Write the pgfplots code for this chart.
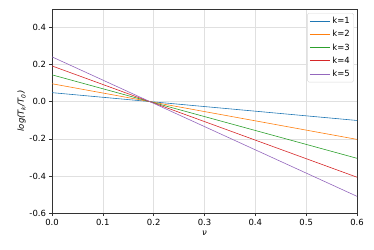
\documentclass[border=0pt]{standalone}
\usepackage{fontspec}
\setmainfont{DejaVu Sans}
\usepackage{pgfplots}
\pgfplotsset{compat=1.18}
\usetikzlibrary{calc}
\definecolor{c0}{HTML}{1F77B4}
\definecolor{c1}{HTML}{FF7F0E}
\definecolor{c2}{HTML}{2CA02C}
\definecolor{c3}{HTML}{D62728}
\definecolor{c4}{HTML}{9467BD}
\begin{document}
\fontsize{8.5}{10}\selectfont
\begin{tikzpicture}
\begin{axis}[
  scale only axis,
  width=305bp, height=204bp,
  xmin=0, xmax=0.6, ymin=-0.6, ymax=0.5,
  xtick={0,0.1,...,0.6},
  ytick={-0.6,-0.4,...,0.4},
  /pgf/number format/.cd, fixed, fixed zerofill, precision=1, assume math mode=true,
  /pgfplots/.cd,
  tick label style={font=\fontsize{8.5}{10}\selectfont},
  grid=major,
  grid style={color=black!12, line width=0.6pt},
  axis line style={line width=0.6pt, color=black!80},
  tick align=outside,
  tick pos=left,
  major tick length=3bp,
  tick style={line width=0.6pt, color=black!80},
  xlabel={\textit{ν}},
  ylabel={\textit{log(T\textsubscript{k}/T\textsubscript{0})}},
  label style={font=\fontsize{8.5}{10}\selectfont},
  xlabel style={yshift=0bp},
  ylabel style={yshift=-2bp},
  legend cell align=left,
  legend style={font=\fontsize{8.5}{10}\selectfont, draw=black!15, rounded corners=1.5pt, inner sep=2pt, row sep=1.6pt, at={(0.99,0.98)}, anchor=north east},
  legend image code/.code={\draw[#1, line width=1pt] (0bp,0bp) -- (20bp,0bp);},
  every axis plot/.append style={line width=0.6pt},
]
\addplot[c0] coordinates {(0,0.049) (0.6,-0.101)};
\addlegendentry{k=1}
\addplot[c1] coordinates {(0,0.097) (0.6,-0.203)};
\addlegendentry{k=2}
\addplot[c2] coordinates {(0,0.145) (0.6,-0.305)};
\addlegendentry{k=3}
\addplot[c3] coordinates {(0,0.193) (0.6,-0.407)};
\addlegendentry{k=4}
\addplot[c4] coordinates {(0,0.242) (0.6,-0.510)};
\addlegendentry{k=5}
\end{axis}
\pgfresetboundingbox
\path[use as bounding box] ($(current axis.south west)+(-52bp,-36bp)$) rectangle ($(current axis.north east)+(17bp,9bp)$);
\end{tikzpicture}
\end{document}
